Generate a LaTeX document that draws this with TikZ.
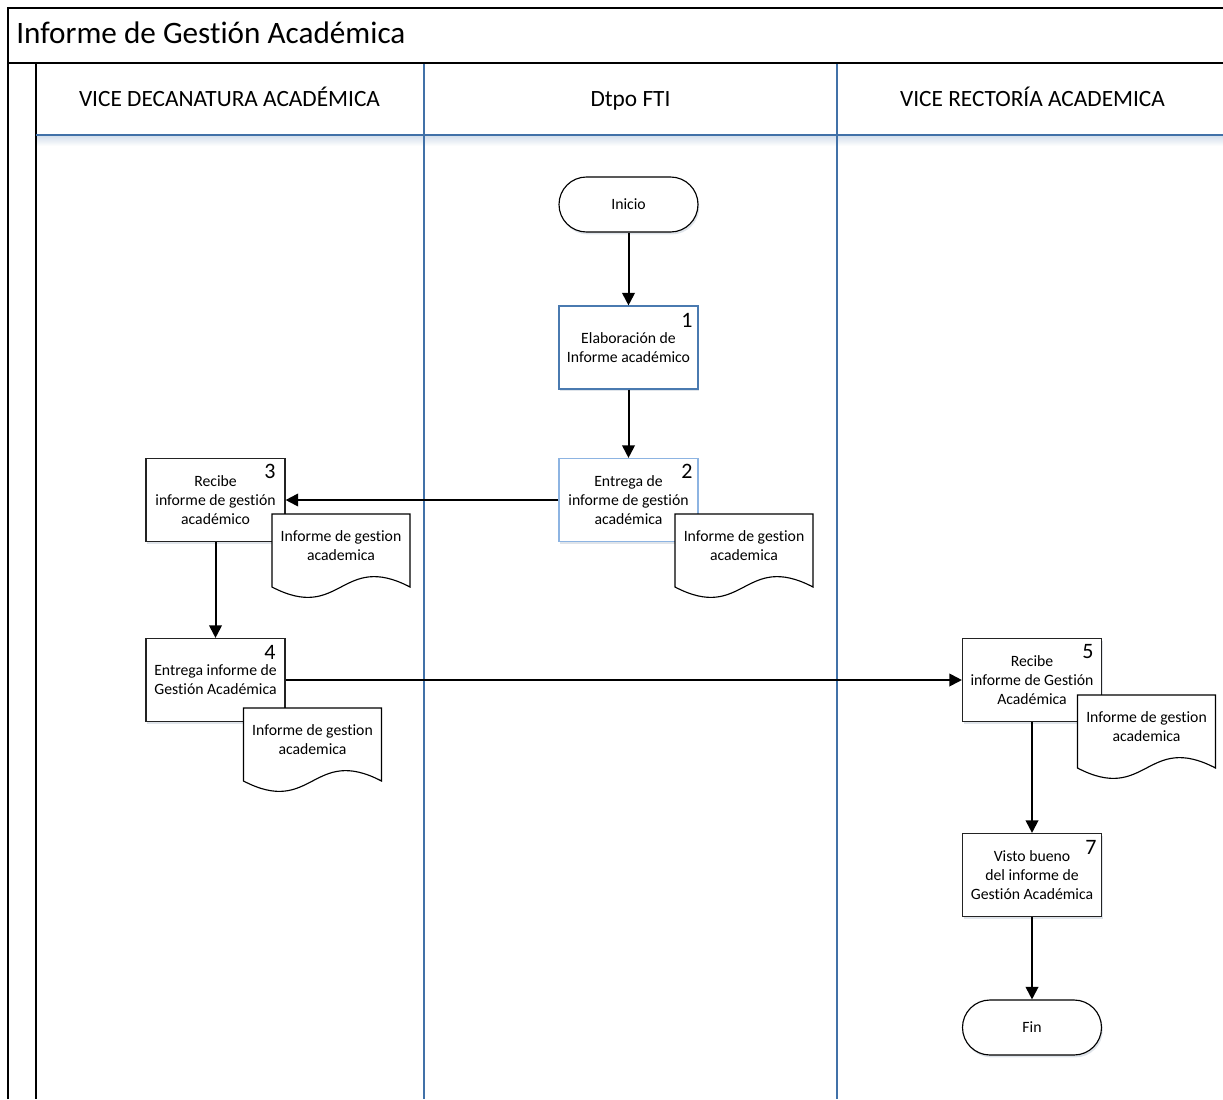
\documentclass[tikz,border=0pt]{standalone}
\usepackage{fontspec}
\setmainfont{Carlito}[Ligatures=NoCommon]
\usetikzlibrary{arrows.meta,shadows}

\definecolor{laneblue}{RGB}{65,113,168}
\definecolor{boxblue}{RGB}{74,122,176}
\definecolor{paleblue}{RGB}{141,180,226}
\definecolor{boxline}{RGB}{35,35,35}

% document symbol: flat top, wavy bottom; #1 name, #2 centre x, #3 top y, #4 text
\newcommand\docsymbol[4]{%
  \path[docframe] (#2-69,#3) -- (#2+69,#3) -- (#2+69,#3+73)
    .. controls (#2,#3+37) and (#2,#3+109) .. (#2-69,#3+73) -- cycle;
  \node[doctext] (#1) at (#2,#3+32) {#4};
}

\begin{document}
\begin{tikzpicture}[x=0.75pt,y=-0.75pt,
  frameline/.style={draw=black, line width=1pt},
  laneline/.style={draw=laneblue, line width=1.5pt},
  lanehead/.style={font=\fontsize{17.5}{20}\selectfont, anchor=base, inner sep=0pt},
  stepbox/.style={draw=boxline, fill=white, line width=0.85pt,
    minimum width=104.25pt, minimum height=62.25pt, inner sep=1pt,
    align=center, font=\fontsize{11.8}{14.2}\selectfont,
    drop shadow={shadow xshift=1pt, shadow yshift=-1.8pt, opacity=0.15, fill=laneblue!70!black}},
  term/.style={draw=black, fill=white, line width=0.85pt,
    minimum width=104.25pt, minimum height=41.25pt, rounded corners=20.6pt,
    font=\fontsize{11.8}{14.2}\selectfont,
    drop shadow={shadow xshift=1pt, shadow yshift=-1.8pt, opacity=0.15, fill=laneblue!70!black}},
  stepnum/.style={font=\fontsize{16.5}{18}\selectfont, inner sep=0pt},
  docframe/.style={draw=black, fill=white, line width=0.85pt},
  doctext/.style={align=center, font=\fontsize{11.8}{14.2}\selectfont, inner sep=0pt},
  flow/.style={draw=black, line width=1.5pt, -{Triangle[length=9.5pt,width=9.5pt]}}
]
\useasboundingbox[fill=white] (0,0) rectangle (1223,1099);

% soft glow under the lane header row
\shade[top color=laneblue!22, bottom color=white] (36,136) rectangle (1223,146);

% pool frame and title band
\draw[frameline] (8,1099) -- (8,8) -- (1223,8);
\draw[frameline] (8,63) -- (1223,63);
\draw[frameline] (36,63) -- (36,1099);

% lanes
\draw[laneline] (36,135) -- (1223,135);
\draw[laneline] (424,64) -- (424,1099);
\draw[laneline] (837,64) -- (837,1099);

\node[anchor=base west, font=\fontsize{23.4}{26}\selectfont, inner sep=0pt] (title) at (16,44) {Informe de Gestión Académica};
\node[lanehead] (h1) at (229.5,106) {VICE DECANATURA ACADÉMICA};
\node[lanehead] (h2) at (630.5,106) {Dtpo FTI};
\node[lanehead] (h3) at (1032.5,106) {VICE RECTORÍA ACADEMICA};

% process steps
\node[term] (ini) at (628.5,204.5) {Inicio};
\node[stepbox, draw=boxblue] (b1) at (628.5,347.5) {Elaboración de\\Informe académico};
\node[stepbox, draw=paleblue] (b2) at (628.5,500) {Entrega de\\informe de gestión\\académica};
\node[stepbox] (b3) at (215.5,500) {Recibe\\informe de gestión\\académico};
\node[stepbox] (b4) at (215.5,680) {Entrega informe de\\Gestión Académica};
\node[stepbox] (b5) at (1032,680) {Recibe\\informe de Gestión\\Académica};
\node[stepbox] (b7) at (1032,875) {Visto bueno\\del informe de\\Gestión Académica};
\node[term] (fin) at (1032,1027.5) {Fin};

% step numbers
\node[stepnum] (n1) at (687,320) {1};
\node[stepnum] (n2) at (687,471) {2};
\node[stepnum] (n3) at (270,471) {3};
\node[stepnum] (n4) at (270,652) {4};
\node[stepnum] (n5) at (1088,652) {5};
\node[stepnum] (n7) at (1091,847) {7};

% documents
\docsymbol{d2}{744}{514}{Informe de gestion\\academica}
\docsymbol{d3}{341}{514}{Informe de gestion\\academica}
\docsymbol{d4}{312.5}{708}{Informe de gestion\\academica}
\docsymbol{d5}{1146.5}{695}{Informe de gestion\\academica}

% flow
\draw[flow] (ini) -- (b1);
\draw[flow] (b1) -- (b2);
\draw[flow] (b2) -- (b3);
\draw[flow] (b3) -- (b4);
\draw[flow] (b4) -- (b5);
\draw[flow] (b5) -- (b7);
\draw[flow] (b7) -- (fin);
\end{tikzpicture}
\end{document}
